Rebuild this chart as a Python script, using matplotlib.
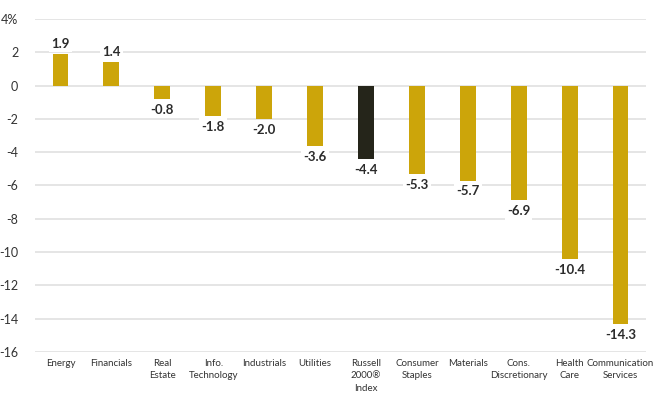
import matplotlib.pyplot as plt

# Sector returns (%)
sectors = ["Energy", "Financials", "Real\nEstate", "Info.\nTechnology", "Industrials",
           "Utilities", "Russell\n2000®\nIndex", "Consumer\nStaples", "Materials",
           "Cons.\nDiscretionary", "Health\nCare", "Communication\nServices"]
returns = [1.9, 1.4, -0.8, -1.8, -2.0, -3.6, -4.4, -5.3, -5.7, -6.9, -10.4, -14.3]
highlight = "Russell\n2000®\nIndex"

gold = "#CCA50A"
dark = "#25251A"
colors = [dark if s == highlight else gold for s in sectors]

plt.rcParams['font.family'] = ['Lato', 'DejaVu Sans']

fig = plt.figure(figsize=(6.53, 3.94), dpi=100)
ax = fig.add_axes([35 / 653, 42 / 394, 611 / 653, 333 / 394])

x = range(len(sectors))
ax.bar(x, returns, width=0.31, color=colors, zorder=2)

# value labels
for i, v in enumerate(returns):
    if v >= 0:
        ax.text(i, v + 0.25, f"{v:.1f}", ha="center", va="bottom", fontsize=9.5,
                fontweight="bold", color="#2b2b2b", zorder=3,
                bbox=dict(facecolor="white", edgecolor="none", pad=1.5))
    else:
        ax.text(i, v - 0.3, f"{v:.1f}", ha="center", va="top", fontsize=9.5,
                fontweight="bold", color="#2b2b2b", zorder=3,
                bbox=dict(facecolor="white", edgecolor="none", pad=1.5))

ax.set_xlim(-0.5, len(sectors) - 0.5)
ax.set_ylim(-16, 4)
ax.set_yticks(range(-16, 5, 2))
ax.set_yticklabels([f"{t}%" if t == 4 else str(t) for t in range(-16, 5, 2)])
ax.set_xticks(list(x))
ax.set_xticklabels(sectors, fontsize=7, color="#333333", linespacing=1.5)

ax.yaxis.grid(True, color="#e0e0e0", linewidth=1.2, zorder=0)
ax.set_axisbelow(True)
for s in ax.spines.values():
    s.set_visible(False)
ax.tick_params(axis="both", length=0)
ax.tick_params(axis="y", labelsize=9, labelcolor="#333333", pad=12)
ax.tick_params(axis="x", pad=5)

fig.savefig("out.png", dpi=100)
